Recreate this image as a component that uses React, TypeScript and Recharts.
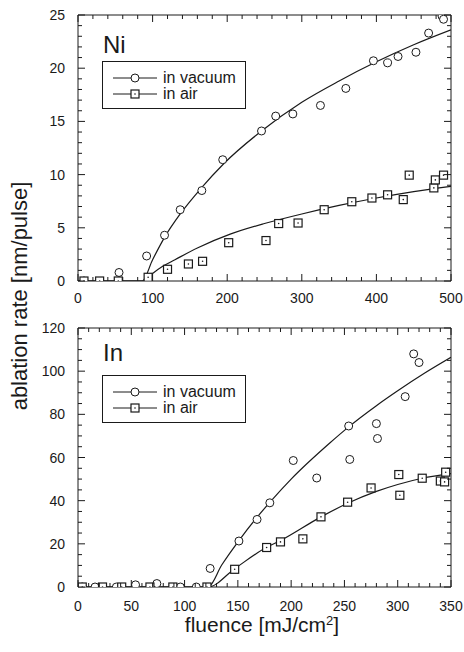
import { ComposedChart, Line, Scatter, XAxis, YAxis } from "recharts";

const ink = "#1a1a1a";
const font = "'Liberation Sans', Arial, Helvetica, sans-serif";

// Ni panel: measured points
const niVacuum = [
  { x: 8, y: 0 }, { x: 55, y: 0.8 }, { x: 92, y: 2.35 }, { x: 116, y: 4.3 },
  { x: 137, y: 6.7 }, { x: 166, y: 8.5 }, { x: 194, y: 11.4 }, { x: 246, y: 14.1 },
  { x: 265, y: 15.5 }, { x: 288, y: 15.7 }, { x: 325, y: 16.5 }, { x: 359, y: 18.1 },
  { x: 396, y: 20.7 }, { x: 415, y: 20.5 }, { x: 429, y: 21.1 }, { x: 453, y: 21.5 },
  { x: 470, y: 23.3 }, { x: 488, y: 24.9 }, { x: 490, y: 24.6 },
];
const niAir = [
  { x: 8, y: 0 }, { x: 29, y: 0 }, { x: 54, y: 0 }, { x: 94, y: 0.35 },
  { x: 120, y: 1.1 }, { x: 148, y: 1.6 }, { x: 167, y: 1.85 }, { x: 202, y: 3.6 },
  { x: 252, y: 3.8 }, { x: 269, y: 5.4 }, { x: 295, y: 5.45 }, { x: 330, y: 6.7 },
  { x: 367, y: 7.45 }, { x: 394, y: 7.8 }, { x: 415, y: 8.1 }, { x: 436, y: 7.65 },
  { x: 444, y: 9.95 }, { x: 477, y: 8.75 }, { x: 479, y: 9.5 }, { x: 490, y: 9.95 },
];
// Ni panel: fit curves
const niVacuumFit = [
  { x: 0, y: 0 }, { x: 86, y: 0 }, { x: 100, y: 2.0 }, { x: 116, y: 4.1 },
  { x: 137, y: 6.3 }, { x: 166, y: 8.8 }, { x: 195, y: 11.0 }, { x: 246, y: 14.1 },
  { x: 300, y: 16.8 }, { x: 350, y: 18.8 }, { x: 400, y: 20.6 }, { x: 450, y: 22.2 },
  { x: 500, y: 23.6 },
];
const niAirFit = [
  { x: 0, y: 0 }, { x: 88, y: 0 }, { x: 100, y: 0.7 }, { x: 114, y: 1.4 },
  { x: 130, y: 2.0 }, { x: 160, y: 3.1 }, { x: 204, y: 4.4 }, { x: 250, y: 5.4 },
  { x: 300, y: 6.3 }, { x: 350, y: 7.1 }, { x: 400, y: 7.8 }, { x: 450, y: 8.4 },
  { x: 500, y: 8.9 },
];

// In panel: measured points
const inVacuum = [
  { x: 4, y: 0 }, { x: 16, y: 0 }, { x: 36, y: 0 }, { x: 54, y: 1.0 },
  { x: 74, y: 1.6 }, { x: 96, y: 0 }, { x: 111, y: 0 }, { x: 124, y: 8.6 },
  { x: 151, y: 21.3 }, { x: 168, y: 31.3 }, { x: 180, y: 39 }, { x: 202, y: 58.6 },
  { x: 224, y: 50.5 }, { x: 254, y: 74.6 }, { x: 255, y: 59.1 }, { x: 280, y: 75.7 },
  { x: 281, y: 68.8 }, { x: 307, y: 88.2 }, { x: 315, y: 108 }, { x: 320, y: 104 },
];
const inAir = [
  { x: 4, y: 0 }, { x: 23, y: 0 }, { x: 41, y: 0 }, { x: 67.5, y: 0 },
  { x: 89, y: 0 }, { x: 121, y: 0 }, { x: 147, y: 8.2 }, { x: 177, y: 18.3 },
  { x: 190, y: 20.9 }, { x: 211, y: 22.3 }, { x: 228, y: 32.5 }, { x: 253, y: 39.3 },
  { x: 275, y: 45.9 }, { x: 301, y: 52.1 }, { x: 302, y: 42.5 }, { x: 323, y: 50.4 },
  { x: 340, y: 49.1 }, { x: 344, y: 48.7 }, { x: 345, y: 53.2 },
];
const inVacuumFit = [
  { x: 0, y: 0 }, { x: 122, y: 0 }, { x: 135, y: 10.3 }, { x: 151, y: 21.5 },
  { x: 168, y: 32.3 }, { x: 181, y: 39.8 }, { x: 200, y: 50 }, { x: 236, y: 66.6 },
  { x: 254, y: 74.2 }, { x: 280, y: 84 }, { x: 300, y: 90.9 }, { x: 325, y: 99 },
  { x: 350, y: 106.4 },
];
const inAirFit = [
  { x: 0, y: 0 }, { x: 122, y: 0 }, { x: 147, y: 8.5 }, { x: 177, y: 18.4 },
  { x: 190, y: 21.5 }, { x: 228, y: 32.5 }, { x: 253, y: 38.8 }, { x: 280, y: 44.3 },
  { x: 300, y: 47.5 }, { x: 323, y: 50.4 }, { x: 350, y: 52.5 },
];

// tick values (majors get labels)
const niXTicks = Array.from({ length: 26 }, (_, i) => i * 20);
const niYTicks = Array.from({ length: 26 }, (_, i) => i);
const inXTicks = Array.from({ length: 36 }, (_, i) => i * 10);
const inYTicks = Array.from({ length: 25 }, (_, i) => i * 5);

const Circle = (p: any) => (
  <circle cx={p.cx} cy={p.cy} r={4} fill="#fff" stroke={ink} strokeWidth={1} />
);
const Square = (p: any) => (
  <g>
    <rect x={p.cx - 4} y={p.cy - 4} width={8} height={8} fill="#fff" stroke={ink} strokeWidth={1.2} />
    <circle cx={p.cx} cy={p.cy} r={0.8} fill={ink} />
  </g>
);

const xTick = (major: number, dir: number, label: boolean, dy: number) => (p: any) => {
  const v = p.payload.value;
  const isMajor = v % major === 0;
  return (
    <g>
      <line x1={p.x} y1={p.y} x2={p.x} y2={p.y + dir * (isMajor ? 7 : 4)} stroke={ink} />
      {label && isMajor && (
        <text x={p.x} y={p.y + dy} textAnchor="middle" fontSize={14} fill={ink} fontFamily={font}>
          {v}
        </text>
      )}
    </g>
  );
};
const yTick = (major: number, dir: number, label: boolean) => (p: any) => {
  const v = p.payload.value;
  const isMajor = v % major === 0;
  return (
    <g>
      <line x1={p.x} y1={p.y} x2={p.x + dir * (isMajor ? 7 : 4)} y2={p.y} stroke={ink} />
      {label && isMajor && (
        <text x={p.x - 13} y={p.y + 5} textAnchor="end" fontSize={14} fill={ink} fontFamily={font}>
          {v}
        </text>
      )}
    </g>
  );
};

const LegendBox = ({ left, top }: { left: number; top: number }) => (
  <svg style={{ position: "absolute", left, top }} width={144} height={48}>
    <rect x={0.5} y={0.5} width={143} height={47} fill="#fff" stroke={ink} />
    <line x1={11} y1={17} x2={55} y2={17} stroke={ink} />
    <Circle cx={33} cy={17} />
    <text x={61} y={22} fontSize={16} fontFamily={font} fill={ink}>in vacuum</text>
    <line x1={11} y1={33} x2={55} y2={33} stroke={ink} />
    <Square cx={33} cy={33} />
    <text x={61} y={38} fontSize={16} fontFamily={font} fill={ink}>in air</text>
  </svg>
);

type PanelProps = {
  height: number;
  topH: number;
  bottomH: number;
  xMax: number;
  yMax: number;
  xTicks: number[];
  yTicks: number[];
  xMajor: number;
  yMajor: number;
  labelDy: number;
  vacuum: { x: number; y: number }[];
  air: { x: number; y: number }[];
  vacuumFit: { x: number; y: number }[];
  airFit: { x: number; y: number }[];
};

const Panel = (p: PanelProps) => (
  <ComposedChart width={464} height={p.height} margin={{ top: 0, right: 0, bottom: 0, left: 0 }}>
    <XAxis
      xAxisId="b" dataKey="x" type="number" domain={[0, p.xMax]} ticks={p.xTicks} interval={0}
      allowDataOverflow height={p.bottomH} tickSize={0} tickMargin={0}
      axisLine={{ stroke: ink }} tick={xTick(p.xMajor, -1, true, p.labelDy)}
    />
    <XAxis
      xAxisId="t" orientation="top" dataKey="x" type="number" domain={[0, p.xMax]} ticks={p.xTicks}
      interval={0} allowDataOverflow height={p.topH} tickSize={0} tickMargin={0}
      axisLine={{ stroke: ink }} tick={xTick(p.xMajor, 1, false, 0)}
    />
    <YAxis
      yAxisId="l" type="number" domain={[0, p.yMax]} ticks={p.yTicks} interval={0} allowDataOverflow
      width={78} tickSize={0} tickMargin={0} axisLine={{ stroke: ink }} tick={yTick(p.yMajor, 1, true)}
    />
    <YAxis
      yAxisId="r" orientation="right" type="number" domain={[0, p.yMax]} ticks={p.yTicks} interval={0}
      allowDataOverflow width={13} tickSize={0} tickMargin={0} axisLine={{ stroke: ink }}
      tick={yTick(p.yMajor, -1, false)}
    />
    <Line xAxisId="t" yAxisId="r" data={p.vacuumFit} dataKey="y" stroke="none" dot={false} isAnimationActive={false} />
    <Line xAxisId="b" yAxisId="l" data={p.vacuumFit} dataKey="y" type="monotone" stroke={ink} strokeWidth={1.2} dot={false} isAnimationActive={false} />
    <Line xAxisId="b" yAxisId="l" data={p.airFit} dataKey="y" type="monotone" stroke={ink} strokeWidth={1.2} dot={false} isAnimationActive={false} />
    <Scatter xAxisId="b" yAxisId="l" data={p.vacuum} dataKey="y" shape={Circle} isAnimationActive={false} />
    <Scatter xAxisId="b" yAxisId="l" data={p.air} dataKey="y" shape={Square} isAnimationActive={false} />
  </ComposedChart>
);

export default function App() {
  return (
    <div style={{ position: "absolute", left: 0, top: 0, width: 464, height: 652, background: "#fff", fontFamily: font, color: ink }}>
      <div style={{ position: "absolute", left: 0, top: 0 }}>
        <Panel
          height={310} topH={15} bottomH={29} xMax={500} yMax={25} xTicks={niXTicks} yTicks={niYTicks}
          xMajor={100} yMajor={5} labelDy={22}
          vacuum={niVacuum} air={niAir} vacuumFit={niVacuumFit} airFit={niAirFit}
        />
      </div>
      <div style={{ position: "absolute", left: 0, top: 310 }}>
        <Panel
          height={342} topH={18} bottomH={65} xMax={350} yMax={120} xTicks={inXTicks} yTicks={inYTicks}
          xMajor={50} yMajor={20} labelDy={24}
          vacuum={inVacuum} air={inAir} vacuumFit={inVacuumFit} airFit={inAirFit}
        />
      </div>
      <div style={{ position: "absolute", left: 103, top: 30, fontSize: 24, lineHeight: "30px" }}>Ni</div>
      <div style={{ position: "absolute", left: 103, top: 338, fontSize: 24, lineHeight: "30px" }}>In</div>
      <LegendBox left={102} top={61} />
      <LegendBox left={102} top={375} />
      <div
        style={{
          position: "absolute", left: 20, top: 296, fontSize: 22, whiteSpace: "nowrap",
          transform: "translate(-50%, -50%) rotate(-90deg)",
        }}
      >
        ablation rate [nm/pulse]
      </div>
      <div
        style={{
          position: "absolute", left: 262, top: 613, fontSize: 21, lineHeight: "24px", whiteSpace: "nowrap",
          transform: "translateX(-50%)",
        }}
      >
        fluence [mJ/cm<span style={{ fontSize: 13, verticalAlign: "7px", lineHeight: 0 }}>2</span>]
      </div>
    </div>
  );
}
